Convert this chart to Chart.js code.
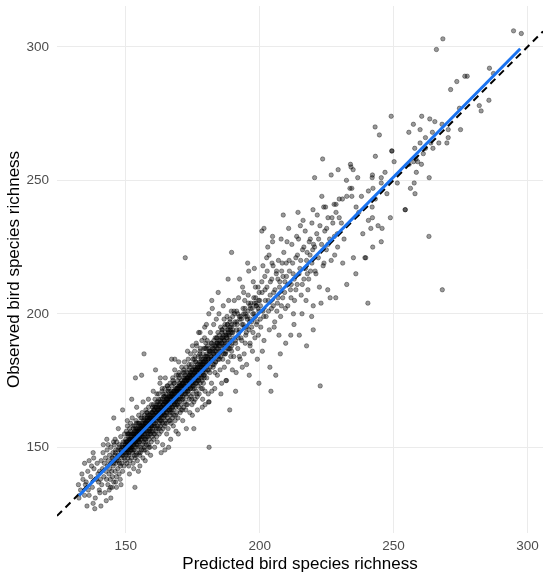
<!DOCTYPE html>
<html lang="en">
  <head>
    <meta charset="UTF-8" />
    <script src="https://cdn.jsdelivr.net/npm/chart.js@4.4.1/dist/chart.umd.min.js"></script>
    <title>Observed vs predicted bird species richness</title>
    <style>
      body {
        margin: 0;
        padding: 0;
        background: white;
      }
    </style>
  </head>
  <body>
    <canvas id="richness" width="550" height="579"></canvas>
    <script>
      // [predicted, observed] per site
      const richnessPairs = [
        // 132 - 140
        [132.3,136],[132.5,131],[133.6,140],[134.6,144],[134.6,132],[135.2,137],[136.3,145],[136.3,132],[137.8,148],[137.8,129],
        [138.4,127],[140.7,128],[140.1,134],[140.3,133],[133.1,134],[134.0,138],[135.8,141],[136.9,139],[137.5,135],[138.1,142],
        [138.9,138],[139.3,144],[139.6,140],[138.6,131],[135.5,128],[137.2,143],[139.8,137],[136.0,134],[134.9,136],[138.0,146],
        // 140 - 150
        [140.2,141],[140.5,138],[140.8,145],[141.0,136],[141.3,142],[141.5,148],[141.8,139],[142.0,144],[142.2,133],[142.4,146],
        [142.6,141],[142.8,138],[143.0,149],[143.1,143],[143.3,136],[143.5,145],[143.7,140],[143.9,147],[144.0,142],[144.2,138],
        [144.4,150],[144.5,144],[144.7,141],[144.9,146],[145.0,139],[145.2,148],[145.3,143],[145.5,137],[145.7,151],[145.8,145],
        [146.0,141],[146.1,148],[146.3,144],[146.5,139],[146.6,152],[146.8,146],[147.0,142],[147.1,149],[147.3,145],[147.5,140],
        [147.6,151],[147.8,147],[148.0,143],[148.1,154],[148.3,148],[148.5,144],[148.6,150],[148.8,141],[149.0,152],[149.1,147],
        [149.3,143],[149.5,155],[149.6,149],[149.8,145],[149.9,151],[141.6,151],[142.7,130],[143.8,134],[146.2,137],[147.9,138],
        [142.9,153],[143.4,151],[145.4,152],[146.0,153],[145.5,161],[148.8,164],[144.4,131],[144.9,135],[146.5,135],[144.3,135],
        [147.2,157],[148.2,136],
        [145.1,146],[145.4,144],[145.9,147],[146.2,149],[146.7,145],[147.0,147],[147.4,150],[147.7,144],[148.0,149],[148.4,146],
        [148.7,151],[148.9,148],[149.2,150],[149.4,146],[149.7,152],
        [148.2,149],[148.6,147],[149.0,150],[149.5,148],[149.9,150],
        // 150 - 160
        [150.0,153],[150.1,147],[150.2,156],[150.3,150],[150.4,144],[150.5,152],[150.6,158],[150.7,149],[150.8,146],[150.9,154],
        [151.0,151],[151.1,143],[151.2,155],[151.3,148],[151.4,157],[151.5,150],[151.6,145],[151.7,153],[151.8,159],[151.9,149],
        [152.0,152],[152.1,146],[152.2,155],[152.3,150],[152.4,161],[152.5,148],[152.6,153],[152.7,144],[152.8,157],[152.9,151],
        [153.0,155],[153.1,149],[153.2,147],[153.3,158],[153.4,152],[153.5,146],[153.6,156],[153.7,150],[153.8,160],[153.9,153],
        [154.0,148],[154.1,157],[154.2,151],[154.3,145],[154.4,155],[154.5,159],[154.6,150],[154.7,153],[154.8,162],[154.9,148],
        [155.0,156],[155.1,152],[155.2,147],[155.3,158],[155.4,154],[155.5,150],[155.6,161],[155.7,155],[155.8,149],[155.9,157],
        [156.0,153],[156.1,163],[156.2,151],[156.3,158],[156.4,146],[156.5,155],[156.6,160],[156.7,152],[156.8,157],[156.9,150],
        [157.0,162],[157.1,155],[157.2,149],[157.3,159],[157.4,153],[157.5,164],[157.6,156],[157.7,151],[157.8,160],[157.9,154],
        [158.0,148],[158.1,158],[158.2,162],[158.3,155],[158.4,151],[158.5,165],[158.6,157],[158.7,153],[158.8,161],[158.9,156],
        [159.0,150],[159.1,159],[159.2,163],[159.3,155],[159.4,158],[159.5,152],[159.6,166],[159.7,160],[159.8,154],[159.9,157],
        [150.25,149],[150.65,155],[151.05,147],[151.45,153],[151.85,156],[152.25,149],[152.65,158],[153.05,151],[153.45,154],[153.85,147],
        [154.25,156],[154.65,152],[155.05,159],[155.45,148],[155.85,154],[156.25,156],[156.65,149],[157.05,158],[157.45,152],[157.85,163],
        [158.25,154],[158.65,150],[159.05,161],[159.45,156],[159.85,163],[150.55,160],[151.35,140],[152.95,142],[154.05,165],[155.25,143],
        [156.45,167],[157.25,145],[158.45,168],[159.25,147],[153.4,135],[156.8,185],[153.6,176],[155.9,177],[152.2,168],[154.7,141],
        [150.0,149],[150.2,152],[150.4,148],[150.6,151],[150.8,155],[151.0,148],[151.2,152],[151.5,155],[151.7,150],[151.9,153],
        [152.1,151],[152.3,155],[152.5,152],[152.7,149],[152.9,154],[153.1,152],[153.3,156],[153.5,153],[153.7,157],[153.9,151],
        [154.1,154],[154.3,157],[154.5,153],[154.7,156],[154.9,159],[155.1,154],[155.3,156],[155.5,153],[155.7,158],[155.9,155],
        [156.1,157],[156.3,154],[156.5,159],[156.7,156],[156.9,161],[157.1,157],[157.3,154],[157.5,159],[157.7,156],[157.9,161],
        [158.1,158],[158.3,160],[158.5,156],[158.7,162],[158.9,159],[159.1,157],[159.3,161],[159.5,158],[159.7,163],[159.9,160],
        [150.1,150],[151.1,153],[152.1,154],[153.1,155],[154.1,156],[155.1,157],[156.1,159],[157.1,160],[158.1,161],[159.1,162],
        [150.9,149],[151.9,151],[152.9,152],[153.9,155],[154.9,155],[155.9,158],[156.9,157],[157.9,159],[158.9,161],[159.9,158],
        [150.3,152],[150.7,151],[151.2,150],[151.6,153],[152.0,150],[152.4,153],[152.8,155],[153.2,154],[153.6,152],[154.0,155],
        [154.4,153],[154.8,157],[155.2,155],[155.6,157],[156.0,156],[156.4,158],[156.8,156],[157.2,159],[157.6,158],[158.0,160],
        [158.4,158],[158.8,160],[159.2,159],[159.6,161],[155.0,152],[157.0,153],[159.0,155],[154.0,159],[156.0,161],[158.0,163],
        // 160 - 170
        [160.0,163],[160.1,156],[160.2,160],[160.3,166],[160.4,153],[160.5,161],[160.6,158],[160.7,164],[160.8,155],[160.9,168],
        [161.0,159],[161.1,162],[161.2,156],[161.3,165],[161.4,160],[161.5,154],[161.6,167],[161.7,163],[161.8,158],[161.9,161],
        [162.0,165],[162.1,157],[162.2,170],[162.3,161],[162.4,164],[162.5,155],[162.6,159],[162.7,166],[162.8,162],[162.9,158],
        [163.0,168],[163.1,163],[163.2,156],[163.3,165],[163.4,161],[163.5,171],[163.6,159],[163.7,167],[163.8,163],[163.9,157],
        [164.0,166],[164.1,161],[164.2,169],[164.3,164],[164.4,158],[164.5,172],[164.6,162],[164.7,167],[164.8,160],[164.9,165],
        [165.0,170],[165.1,163],[165.2,159],[165.3,167],[165.4,173],[165.5,164],[165.6,161],[165.7,168],[165.8,157],[165.9,166],
        [166.0,171],[166.1,164],[166.2,160],[166.3,169],[166.4,165],[166.5,174],[166.6,162],[166.7,168],[166.8,171],[166.9,159],
        [167.0,166],[167.1,173],[167.2,163],[167.3,169],[167.4,161],[167.5,176],[167.6,167],[167.7,164],[167.8,171],[167.9,168],
        [168.0,162],[168.1,174],[168.2,166],[168.3,170],[168.4,160],[168.5,172],[168.6,168],[168.7,165],[168.8,177],[168.9,169],
        [169.0,163],[169.1,172],[169.2,166],[169.3,175],[169.4,170],[169.5,161],[169.6,168],[169.7,173],[169.8,165],[169.9,178],
        [160.25,171],[160.75,150],[161.25,165],[161.75,152],[162.25,163],[162.75,174],[163.25,160],[163.75,151],[164.25,169],[164.75,176],
        [165.25,155],[165.75,171],[166.25,167],[166.75,153],[167.25,170],[167.75,158],[168.25,179],[168.75,156],[169.25,171],[169.75,182],
        [160.55,164],[161.45,157],[162.35,168],[163.15,162],[164.05,163],[164.95,168],[165.65,166],[166.55,163],[167.45,165],[168.45,167],
        [169.15,168],[161.1,179],[163.2,148],[168.3,183],[172.2,221],[166.0,150],[162.9,176],[164.6,149],[167.1,183],[169.6,155],
        [160.1,161],[160.3,164],[160.5,159],[160.7,162],[160.9,165],[161.1,160],[161.3,163],[161.5,166],[161.7,161],[161.9,164],
        [162.1,162],[162.3,166],[162.5,163],[162.7,160],[162.9,165],[163.1,167],[163.3,162],[163.5,165],[163.7,168],[163.9,164],
        [164.1,166],[164.3,162],[164.5,167],[164.7,164],[164.9,169],[165.1,166],[165.3,163],[165.5,168],[165.7,165],[165.9,169],
        [166.1,167],[166.3,164],[166.5,169],[166.7,166],[166.9,170],[167.1,168],[167.3,165],[167.5,170],[167.7,167],[167.9,171],
        [168.1,169],[168.3,166],[168.5,171],[168.7,168],[168.9,172],[169.1,170],[169.3,167],[169.5,172],[169.7,169],[169.9,173],
        [160.6,155],[161.6,170],[162.6,157],[163.6,172],[164.6,159],[165.6,173],[166.6,160],[167.6,175],[168.6,162],[169.6,177],
        [160.0,160],[160.4,162],[160.8,161],[161.2,163],[161.6,162],[162.0,164],[162.4,162],[162.8,164],[163.2,165],[163.6,164],
        [164.0,166],[164.4,165],[164.8,167],[165.2,168],[165.6,167],[166.0,169],[166.4,167],[166.8,169],[167.2,170],[167.6,169],
        [168.0,171],[168.4,169],[168.8,171],[169.2,172],[169.6,171],[161.0,158],[163.0,160],[165.0,162],[167.0,164],[169.0,166],
        [160.0,165],[162.0,167],[164.0,170],[166.0,172],[168.0,174],
        // 170 - 180
        [170.0,167],[170.1,174],[170.2,171],[170.3,163],[170.4,177],[170.5,169],[170.6,172],[170.7,166],[170.8,175],[170.9,180],
        [171.0,170],[171.1,164],[171.2,174],[171.3,168],[171.4,178],[171.5,172],[171.6,165],[171.7,176],[171.8,170],[171.9,182],
        [172.0,173],[172.1,167],[172.2,177],[172.3,171],[172.4,164],[172.5,180],[172.6,175],[172.7,169],[172.8,173],[172.9,178],
        [173.0,166],[173.1,176],[173.2,172],[173.3,183],[173.4,170],[173.5,175],[173.6,179],[173.7,168],[173.8,174],[173.9,163],
        [174.0,178],[174.1,172],[174.2,185],[174.3,176],[174.4,169],[174.5,181],[174.6,174],[174.7,166],[174.8,179],[174.9,173],
        [175.0,183],[175.1,170],[175.2,177],[175.3,174],[175.4,157],[175.5,180],[175.6,172],[175.7,186],[175.8,176],[175.9,168],
        [176.0,179],[176.1,174],[176.2,182],[176.3,171],[176.4,177],[176.5,188],[176.6,175],[176.7,169],[176.8,181],[176.9,178],
        [177.0,173],[177.1,184],[177.2,193],[177.3,176],[177.4,170],[177.5,182],[177.6,179],[177.7,193],[177.8,174],[177.9,187],
        [178.0,180],[178.1,172],[178.2,183],[178.3,177],[178.4,190],[178.5,175],[178.6,181],[178.7,168],[178.8,185],[178.9,179],
        [179.0,174],[179.1,187],[179.2,182],[179.3,176],[179.4,191],[179.5,180],[179.6,171],[179.7,184],[179.8,178],[179.9,189],
        [170.35,173],[171.25,160],[172.15,176],[173.05,186],[173.95,177],[174.85,162],[175.85,184],[176.75,164],[177.65,186],[178.55,165],
        [179.45,195],[174.9,188],[172.6,157],[175.4,167],[176.3,189],
        [170.1,171],[170.3,168],[170.5,173],[170.7,170],[170.9,174],[171.1,172],[171.3,169],[171.5,174],[171.7,171],[171.9,175],
        [172.1,173],[172.3,170],[172.5,175],[172.7,172],[172.9,176],[173.1,174],[173.3,171],[173.5,176],[173.7,173],[173.9,177],
        [174.1,175],[174.3,172],[174.5,177],[174.7,174],[174.9,178],[175.1,176],[175.3,173],[175.5,178],[175.7,175],[175.9,179],
        [176.1,177],[176.3,174],[176.5,179],[176.7,176],[176.9,180],[177.1,178],[177.3,175],[177.5,180],[177.7,177],[177.9,181],
        [178.1,179],[178.3,176],[178.5,181],[178.7,178],[178.9,182],[179.1,180],[179.3,177],[179.5,182],[179.7,179],[179.9,183],
        [170.6,164],[171.6,179],[172.6,166],[173.6,181],[174.6,168],[175.6,183],[176.6,170],[177.6,185],[178.6,172],[179.6,187],
        [170.0,173],[170.4,171],[170.8,173],[171.2,174],[171.6,173],[172.0,175],[172.4,174],[172.8,176],[173.2,175],[173.6,177],
        [174.0,176],[174.4,178],[174.8,177],[175.2,179],[175.6,178],[176.0,180],[176.4,178],[176.8,180],[177.2,179],[177.6,181],
        [178.0,182],[178.4,180],[178.8,183],[179.2,181],[179.6,183],[171.0,168],[173.0,171],[175.0,172],[177.0,175],[179.0,177],
        [170.0,176],[172.0,178],[174.0,180],[176.0,182],[178.0,184],
        // 180 - 190
        [180.0,184],[180.2,176],[180.4,190],[180.6,181],[180.8,170],[181.0,200],[181.1,150],[181.2,186],[181.4,178],[181.6,193],
        [181.8,183],[182.0,174],[182.1,171],[182.3,202],[182.4,188],[182.6,180],[182.8,196],[183.0,185],[183.2,172],[183.4,191],
        [183.6,182],[183.8,198],[184.0,187],[184.2,177],[184.4,193],[184.6,184],[184.8,200],[185.0,189],[185.2,179],[185.4,195],
        [185.6,186],[185.8,174],[186.0,191],[186.2,183],[186.4,203],[186.6,188],[186.8,180],[187.0,196],[187.2,185],[187.4,175],
        [187.6,192],[187.8,199],[188.0,187],[188.2,182],[188.4,205],[188.6,190],[188.8,164],[189.0,194],[189.2,184],[189.4,201],
        [189.6,189],[189.8,179],[180.9,167],[181.1,167],[180.1,196],[182.1,205],[183.3,178],[184.5,208],[185.5,170],[186.7,198],
        [187.6,175],[188.9,197],[189.5,186],[180.5,188],[183.9,189],[185.9,193],[187.1,189],[188.3,193],[188.2,213],[179.6,166],
        [180.1,181],[180.3,185],[180.5,179],[180.7,183],[180.9,187],[181.1,182],[181.3,186],[181.5,180],[181.7,184],[181.9,189],
        [182.1,183],[182.3,187],[182.5,181],[182.7,185],[182.9,190],[183.1,184],[183.3,188],[183.5,182],[183.7,186],[183.9,191],
        [184.1,185],[184.3,189],[184.5,183],[184.7,188],[184.9,192],[185.1,186],[185.3,190],[185.5,184],[185.7,189],[185.9,194],
        [186.1,187],[186.3,191],[186.5,185],[186.7,190],[186.9,195],[187.1,188],[187.3,192],[187.5,186],[187.7,191],[187.9,196],
        [188.1,189],[188.3,194],[188.5,187],[188.7,192],[188.9,198],[189.1,190],[189.3,195],[189.5,188],[189.7,193],[189.9,199],
        [180.0,182],[180.4,184],[180.8,183],[181.2,185],[181.6,186],[182.0,184],[182.4,186],[182.8,187],[183.2,186],[183.6,188],
        [184.0,189],[184.4,187],[184.8,190],[185.2,188],[185.6,191],[186.0,189],[186.4,192],[186.8,190],[187.2,193],[187.6,191],
        [188.0,194],[188.4,192],[188.8,195],[189.2,193],[189.6,196],[181.0,179],[183.0,181],[185.0,183],[187.0,185],[189.0,187],
        [180.0,187],[182.0,189],[184.0,191],[186.0,194],[188.0,196],
        // 190 - 200
        [190.0,193],[190.3,184],[190.6,200],[190.9,190],[191.2,178],[191.5,197],[191.8,187],[192.1,206],[192.4,194],[192.7,183],
        [193.0,199],[193.3,190],[193.6,210],[193.9,196],[194.2,185],[194.5,202],[194.8,192],[195.1,181],[195.4,199],[195.5,219],
        [195.7,207],[195.9,216],[196.0,194],[196.1,177],[196.4,188],[196.7,204],[197.0,197],[197.3,186],[197.6,212],[197.9,200],
        [198.0,217],[198.2,191],[198.5,206],[198.8,196],[199.1,183],[199.4,210],[199.7,201],[199.7,174],[190.5,205],[191.0,171],
        [192.0,191],[193.5,180],[194.0,208],[195.0,195],[196.5,198],[197.5,193],[198.6,203],[199.5,192],[191.4,201],[194.6,189],
        [189.5,223],[192.5,213],
        [190.2,191],[190.6,196],[191.0,189],[191.4,194],[191.8,200],[192.2,193],[192.6,198],[193.0,191],[193.4,196],[193.8,202],
        [194.2,195],[194.6,200],[195.0,193],[195.4,198],[195.8,204],[196.2,197],[196.6,202],[197.0,195],[197.4,200],[197.8,206],
        [198.2,199],[198.6,204],[199.0,197],[199.4,202],[199.8,208],[190.4,201],[192.4,184],[194.4,205],[196.4,189],[198.4,210],
        [190.0,194],[190.8,197],[191.6,196],[192.4,199],[193.2,198],[194.0,200],[194.8,199],[195.6,201],[196.4,203],[197.2,202],
        [198.0,204],[198.8,203],[199.6,205],
        // 200 - 210
        [200.0,205],[200.4,195],[200.8,212],[201.2,201],[201.6,190],[202.0,209],[202.4,199],[202.8,216],[203.2,205],[203.6,194],
        [204.0,212],[204.2,171],[204.4,202],[204.8,229],[204.8,227],[205.2,208],[205.6,197],[206.0,177],[206.2,215],[206.6,204],
        [207.0,220],[207.4,210],[207.8,199],[208.2,216],[208.6,206],[208.8,237],[209.0,223],[209.4,212],[209.7,189],[203.8,180],
        [200.8,231],[201.6,232],[201.0,186],[202.6,221],[205.0,218],[207.2,192],[208.0,228],[209.6,202],[203.0,225],[206.8,213],
        [200.2,198],[201.9,214],[204.6,219],[206.4,201],[208.4,219],
        [200.3,203],[200.9,208],[201.5,199],[202.1,205],[202.7,210],[203.3,201],[203.9,207],[204.5,213],[205.1,203],[205.7,209],
        [206.3,216],[206.9,206],[207.5,212],[208.1,203],[208.7,214],[209.3,208],[209.9,219],[201.2,218],[203.5,222],[205.4,195],
        [207.7,185],
        // 210 - 220
        [210.0,214],[210.5,203],[211.0,220],[211.5,209],[211.6,192],[212.0,226],[212.5,215],[213.0,205],[213.5,221],[214.0,211],
        [214.3,238],[214.5,228],[214.8,192],[215.0,217],[215.5,207],[216.0,224],[216.5,213],[217.0,231],[217.5,188],[217.5,220],
        [218.0,209],[218.5,227],[219.0,216],[219.4,199],[219.5,234],[220.0,194],[210.8,232],[212.8,196],[213.8,229],[216.2,235],
        [218.8,222],[211.8,211],[215.8,200],[217.8,215],[219.8,224],
        [210.5,211],[211.1,216],[211.7,206],[212.3,219],[212.9,213],[213.5,209],[214.1,222],[214.7,215],[215.3,220],[215.9,211],
        [216.5,225],[217.1,217],[217.7,223],[218.3,213],[218.9,228],[219.5,219],[210.2,227],[212.6,200],[215.2,233],[217.3,205],
        [219.9,239],
        // 220 - 235
        [220.5,251],[220.0,203],[220.5,225],[221.0,215],[221.5,237],[222.0,228],[222.6,173],[222.9,204],[223.2,244],[223.5,258],
        [223.9,240],[224.6,240],[224.0,219],[225.0,232],[225.4,209],[225.5,226],[226.3,206],[226.7,252],[227.0,236],[227.8,241],
        [228.4,206],[228.5,241],[228.0,222],[229.3,254],[229.7,243],[229.0,230],[230.5,234],[230.9,243],[231.0,219],[232.4,250],
        [232.5,211],[232.5,244],[233.7,247],[233.9,256],[234.1,255],[234.4,247],[234.4,244],[234.9,254],[235.0,221],[231.5,228],
        [220.1,226],[220.7,216],[221.3,230],[221.9,221],[222.5,233],[223.1,226],[223.7,218],[224.3,231],[224.9,224],[225.5,236],
        [226.1,228],[226.7,220],[227.3,234],[227.9,229],[228.5,238],[229.1,225],[229.7,236],[222.3,210],
        // 235 - 250
        [235.9,215],[236.6,251],[237.0,238],[238.0,244],[239.3,221],[239.6,221],[240.4,204],[240.6,246],[240.6,235],[241.5,232],
        [242.0,251],[242.1,252],[242.3,247],[242.0,240],[242.1,236],[242.2,225],[243.2,243],[243.1,270],[243.2,259],[244.2,233],
        [244.7,267],[245.4,251],[245.4,249],[245.7,232],[245.4,227],[246.8,253],[248.8,236],[249.1,274],[249.3,261],[249.4,261],
        [238.5,230],[236.0,240],[247.5,245],
        // 250 - 300
        [250.2,257],[251.4,249],[254.3,239],[254.4,239],[255.7,268],[255.8,256],[256.3,247],[257.4,271],[257.5,257],[257.7,249],
        [257.9,262],[258.0,245],[258.4,258],[258.5,253],[259.0,257],[259.9,269],[259.9,264],[260.4,256],[260.5,274],[261.1,260],
        [261.9,266],[261.9,262],[263.2,229],[263.3,251],[263.5,273],[263.9,264],[264.5,268],[264.7,262],[265.4,272],[266.0,299],
        [266.9,264],[268.1,271],[268.2,209],[268.4,303],[269.9,264],[270.4,269],[270.4,266],[271.3,284],[273.6,287],[274.6,277],
        [275.0,269],[276.6,289],[277.5,289],[282.0,278],[282.7,276],[285.6,280],[285.8,292],[287.3,290],[294.8,306],[297.7,305]
      ]

      // fitted regression line ends, as drawn
      const fitLine = [[132.5, 131.9], [297.3, 299.3]]
      const xRange = [124.3, 305.8]
      const yRange = [117.9, 315.3]
      const tickValues = [150, 200, 250, 300]

      const fontFamily = '"Liberation Sans", Arial, sans-serif'

      const setTicks = (scale) => {
        scale.ticks = tickValues.map((v) => ({ value: v }))
      }

      const ctx = document.getElementById('richness').getContext('2d')
      const chart = new Chart(ctx, {
        type: 'scatter',
        data: {
          datasets: [
            {
              data: fitLine.map(([x, y]) => ({ x, y })),
              showLine: true,
              borderColor: '#1a73f0',
              borderWidth: 3,
              pointRadius: 0,
            },
            {
              data: xRange.map((v) => ({ x: v, y: v })),
              showLine: true,
              borderColor: '#000000',
              borderWidth: 2,
              borderDash: [7, 5],
              pointRadius: 0,
            },
            {
              data: richnessPairs.map(([x, y]) => ({ x, y })),
              backgroundColor: 'rgba(0,0,0,0.4)',
              borderColor: 'rgba(0,0,0,0.4)',
              borderWidth: 0.9,
              pointRadius: 2.2,
            },
          ],
        },
        options: {
          responsive: false,
          animation: false,
          layout: { padding: { top: 6, right: 7, left: 0, bottom: 0 } },
          plugins: {
            legend: { display: false },
            tooltip: { enabled: false },
          },
          scales: {
            x: {
              type: 'linear',
              min: xRange[0],
              max: xRange[1],
              afterBuildTicks: setTicks,
              afterFit: (s) => {
                s.height = 46
                s.paddingLeft = 0
                s.paddingRight = 0
              },
              grid: { color: '#ebebeb', lineWidth: 1, drawTicks: false },
              border: { display: false },
              ticks: {
                color: '#4d4d4d',
                font: { family: fontFamily, size: 13.5 },
                padding: 5,
                maxRotation: 0,
              },
              title: {
                display: true,
                text: 'Predicted bird species richness',
                color: '#000000',
                font: { family: fontFamily, size: 17 },
                padding: { top: 0, bottom: 4 },
              },
            },
            y: {
              type: 'linear',
              min: yRange[0],
              max: yRange[1],
              afterBuildTicks: setTicks,
              afterFit: (s) => {
                s.width = 57
                s.paddingTop = 0
                s.paddingBottom = 0
              },
              grid: { color: '#ebebeb', lineWidth: 1, drawTicks: false },
              border: { display: false },
              ticks: {
                color: '#4d4d4d',
                font: { family: fontFamily, size: 13.5 },
                padding: 8,
              },
              title: {
                display: true,
                text: 'Observed bird species richness',
                color: '#000000',
                font: { family: fontFamily, size: 17 },
                padding: { top: 4, bottom: 0 },
              },
            },
          },
        },
      })
    </script>
  </body>
</html>
